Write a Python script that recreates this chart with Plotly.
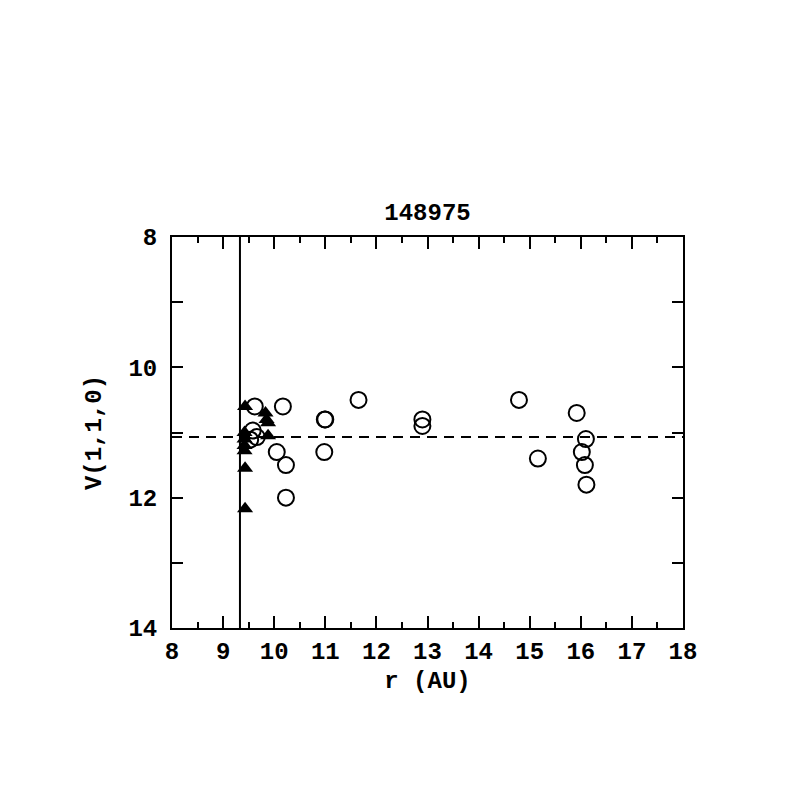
import plotly.graph_objects as go

# open circles
circ_r = [9.62, 10.17, 10.99, 11.0, 11.65, 10.98, 12.9, 12.9, 14.79, 15.92,
          16.10, 16.02, 16.08, 16.11, 15.16, 10.05, 10.23, 10.23, 9.58, 9.66, 9.53]
circ_v = [10.6, 10.6, 10.8, 10.8, 10.5, 11.3, 10.8, 10.9, 10.5, 10.7,
          11.1, 11.3, 11.5, 11.8, 11.4, 11.3, 11.5, 12.0, 10.97, 11.07, 11.11]
# filled triangles
tri_r = [9.43, 9.83, 9.85, 9.88, 9.88, 9.42, 9.42, 9.42, 9.42, 9.43, 9.43]
tri_v = [10.6, 10.7, 10.8, 10.85, 11.05, 11.0, 11.1, 11.2, 11.28, 11.55, 12.17]

v_mean = 11.07
r_line = 9.33
x_range = [8, 18]
y_range = [14, 8]

FONT = "Liberation Mono"
FS = 24

fig = go.Figure()
fig.add_trace(go.Scatter(x=[x_range[0], x_range[1]], y=[v_mean, v_mean], mode="lines",
                         line=dict(color="black", width=2, dash="10px,7px"),
                         showlegend=False, hoverinfo="skip"))
fig.add_trace(go.Scatter(x=[r_line, r_line], y=[y_range[0], y_range[1]], mode="lines",
                         line=dict(color="black", width=2),
                         showlegend=False, hoverinfo="skip"))
fig.add_trace(go.Scatter(x=circ_r, y=circ_v, mode="markers",
                         marker=dict(symbol="circle-open", size=16, color="black",
                                     line=dict(width=2, color="black")),
                         showlegend=False))
fig.add_trace(go.Scatter(x=tri_r, y=tri_v, mode="markers",
                         marker=dict(symbol="triangle-up", size=14, color="black",
                                     line=dict(width=0)),
                         showlegend=False))

tfont = dict(family=FONT, size=FS, color="black", weight="bold")
axis_common = dict(showgrid=False, zeroline=False, showline=True, linecolor="black",
                   linewidth=2, mirror="allticks", ticks="inside", tickcolor="black",
                   tickwidth=2, tickfont=tfont)

fig.update_xaxes(range=x_range, dtick=1, tick0=8, ticklen=12,
                 minor=dict(dtick=0.5, tick0=8, ticks="inside", ticklen=6,
                            tickcolor="black", tickwidth=2),
                 title=dict(text="r (AU)", font=tfont, standoff=6),
                 **axis_common)
fig.update_yaxes(range=y_range, dtick=2, tick0=8, ticklen=11,
                 minor=dict(dtick=1, tick0=8, ticks="inside", ticklen=11,
                            tickcolor="black", tickwidth=2),
                 ticklabelstandoff=8,
                 title=dict(text="V(1,1,0)", font=tfont, standoff=20),
                 **axis_common)

W = 781
fig.update_layout(
    width=W, height=W,
    margin=dict(l=164, r=106, t=229, b=161),
    paper_bgcolor="white", plot_bgcolor="white",
    title=dict(text="148975", x=(427.5 - 8) / W, xanchor="center",
               y=1 - (212 - 8) / W, yanchor="middle", font=tfont),
)

fig.write_html("out.html")
